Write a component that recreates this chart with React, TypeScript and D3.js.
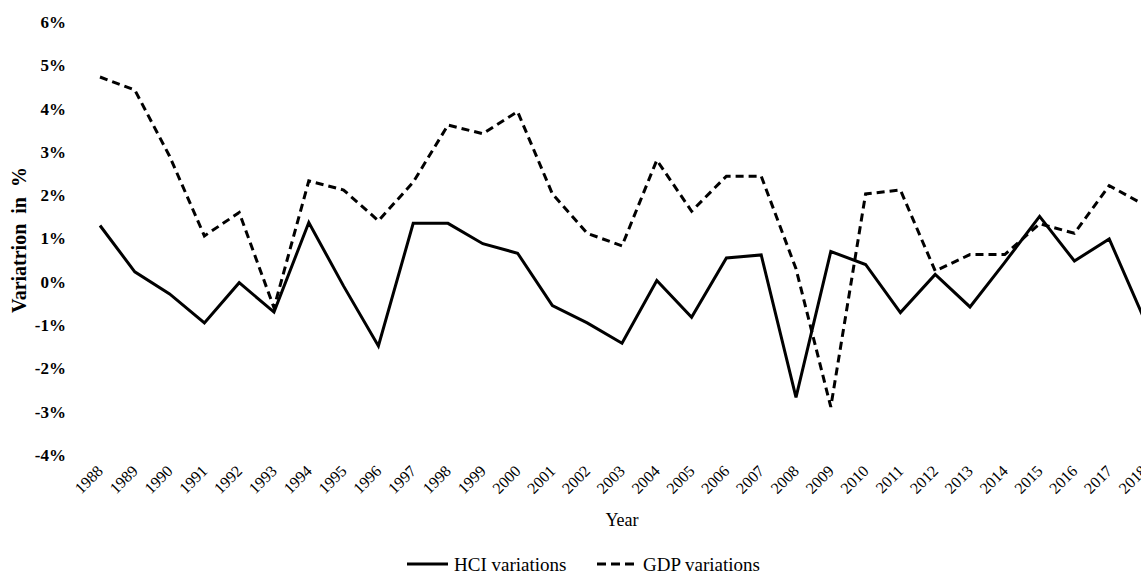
import React, { useEffect, useRef } from 'react';
import * as d3 from 'd3';

const years = d3.range(1988, 2019).map(String);

const hciValues = [
  1.3, 0.23, -0.28, -0.95, -0.02, -0.7, 1.37, -0.1, -1.48, 1.35, 1.35, 0.88, 0.66,
  -0.55, -0.95, -1.42, 0.03, -0.82, 0.55, 0.62, -2.67, 0.7, 0.4, -0.71, 0.17,
  -0.58, 0.45, 1.51, 0.48, 0.99, -0.85,
];

const gdpValues = [
  4.73, 4.43, 2.9, 1.06, 1.6, -0.6, 2.33, 2.12, 1.41, 2.3, 3.62, 3.42, 3.93,
  2.03, 1.12, 0.83, 2.81, 1.63, 2.44, 2.44, 0.3, -2.89, 2.03, 2.12, 0.25, 0.63,
  0.63, 1.34, 1.12, 2.22, 1.78,
];

const yTicks = [-4, -3, -2, -1, 0, 1, 2, 3, 4, 5, 6];

const W = 1141;
const H = 576;
const FONT = '"Liberation Serif", "Times New Roman", serif';

const App = () => {
  const ref = useRef<SVGSVGElement>(null);

  useEffect(() => {
    const svg = d3.select(ref.current);
    svg.selectAll('*').remove();

    const x = d3.scalePoint().domain(years).range([100, 1144]);
    const y = d3.scaleLinear().domain([-4, 6]).range([455, 22]);

    // y tick labels, no axis line drawn
    svg
      .append('g')
      .selectAll('text')
      .data(yTicks)
      .join('text')
      .attr('x', 66)
      .attr('y', (d) => y(d))
      .attr('dy', '0.35em')
      .attr('text-anchor', 'end')
      .attr('font-family', FONT)
      .attr('font-weight', 'bold')
      .attr('font-size', 17)
      .text((d) => `${d}%`);

    // x tick labels rotated
    svg
      .append('g')
      .selectAll('text')
      .data(years)
      .join('text')
      .attr('transform', (d) => `translate(${(x(d) as number) + 4},472) rotate(-45)`)
      .attr('text-anchor', 'end')
      .attr('font-family', FONT)
      .attr('font-size', 16)
      .text((d) => d);

    svg
      .append('text')
      .attr('transform', 'translate(26,240) rotate(-90)')
      .attr('text-anchor', 'middle')
      .attr('font-family', FONT)
      .attr('font-weight', 'bold')
      .attr('font-size', 20)
      .style('white-space', 'pre')
      .text('Variatrion  in  %');

    svg
      .append('text')
      .attr('x', 622)
      .attr('y', 526)
      .attr('text-anchor', 'middle')
      .attr('font-family', FONT)
      .attr('font-size', 18)
      .text('Year');

    const line = d3
      .line<number>()
      .x((_, i) => x(years[i]) as number)
      .y((d) => y(d));

    svg
      .append('path')
      .datum(hciValues)
      .attr('fill', 'none')
      .attr('stroke', '#000')
      .attr('stroke-width', 3)
      .attr('d', line);

    svg
      .append('path')
      .datum(gdpValues)
      .attr('fill', 'none')
      .attr('stroke', '#000')
      .attr('stroke-width', 3)
      .attr('stroke-dasharray', '8,5')
      .attr('d', line);

    // legend
    const legend = svg.append('g');
    legend
      .append('line')
      .attr('x1', 407)
      .attr('x2', 448)
      .attr('y1', 564)
      .attr('y2', 564)
      .attr('stroke', '#000')
      .attr('stroke-width', 3);
    legend
      .append('text')
      .attr('x', 454)
      .attr('y', 571)
      .attr('font-family', FONT)
      .attr('font-size', 19)
      .text('HCI variations');
    legend
      .append('line')
      .attr('x1', 597)
      .attr('x2', 637)
      .attr('y1', 564)
      .attr('y2', 564)
      .attr('stroke', '#000')
      .attr('stroke-width', 3)
      .attr('stroke-dasharray', '9,5');
    legend
      .append('text')
      .attr('x', 643)
      .attr('y', 571)
      .attr('font-family', FONT)
      .attr('font-size', 19)
      .text('GDP variations');
  }, []);

  return (
    <svg
      ref={ref}
      width={W}
      height={H}
      style={{ position: 'absolute', left: 0, top: 0, background: '#fff' }}
    ></svg>
  );
};

export default App;
